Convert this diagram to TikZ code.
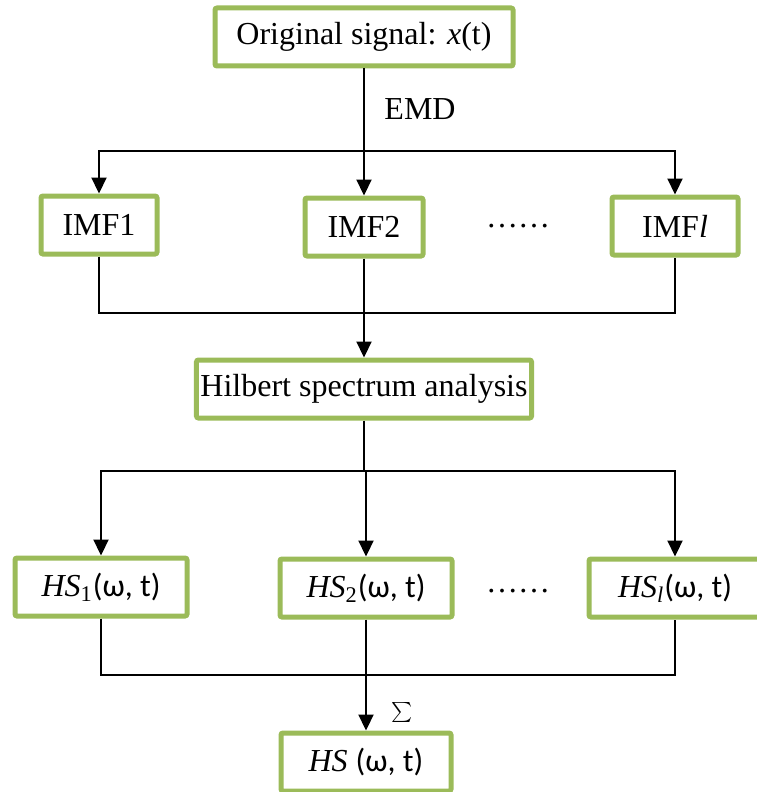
\documentclass[tikz,border=0pt]{standalone}
\usepackage{fontspec}
\setmainfont{Liberation Serif}
\newfontfamily\calfont{Carlito}
\usetikzlibrary{arrows.meta}
\definecolor{boxgreen}{RGB}{155,187,89}
\newcommand{\wt}{{\calfont(ω, t)}} % argument of the spectra
\tikzset{
>={Triangle[width=7.5pt,length=8pt]}, % filled heads on all arrows
box/.style={draw=boxgreen, line width=2.5pt, rounded corners=1pt, fill=white,
  minimum height=29pt, inner sep=2pt, font=\fontsize{16}{19}\selectfont}, % green frames
plain/.style={font=\fontsize{16}{19}\selectfont},
link/.style={line width=1.1pt}, % black connectors
}

\begin{document}
\begin{tikzpicture}[x=0.5pt, y=-0.5pt]
      \useasboundingbox (0,0) rectangle (756,792);

      \node[box, minimum width=149pt] (orig) at (364,37) {Original signal: \textit{x}(t)};

      \node[box, minimum width=58pt] (imf1) at (99,225) {IMF1};
      \node[box, minimum width=59pt] (imf2) at (364,227) {IMF2};
      \node[box, minimum width=63pt] (imfl) at (675,226) {IMF\textit{l}};
      \node[plain] (dots1) at (518,226) {……};

      \node[box, minimum width=131pt] (hilbert) at (364,389) {Hilbert spectrum analysis};

      \node[box, minimum width=86pt] (hs1) at (101,587) {\textit{HS}\textsubscript{1}\wt};
      \node[box, minimum width=86pt] (hs2) at (366,588) {\textit{HS}\textsubscript{2}\wt};
      \node[box, minimum width=86pt] (hsl) at (675,588) {\textit{HS}\textsubscript{\textit{l}}\wt};
      \node[plain] (dots2) at (518,591) {……};

      \node[box, minimum width=85pt] (hs) at (366,762) {\textit{HS} \wt};

      % branch and merge points
      \coordinate (split1) at (364,151);
      \coordinate (join1) at (364,313);
      \coordinate (split2) at (364,471);
      \coordinate (join2) at (366,675);

      \node[plain] (emd) at (420,109) {EMD};
      \node[font=\fontsize{9}{10}\selectfont] (sigma) at (402,712) {$\sum$};

      % EMD into the IMFs
      \draw[link] (orig.south) -- (split1);
      \draw[link,->] (split1) -| (imf1.north);
      \draw[link,->] (split1) -- (imf2.north);
      \draw[link,->] (split1) -| (imfl.north);

      \draw[link] (imf1.south) |- (join1) -| (imfl.south);
      \draw[link] (imf2.south) -- (join1);
      \draw[link,->] (join1) -- (hilbert.north);

      % spectra of every IMF
      \draw[link] (hilbert.south) -- (split2);
      \draw[link,->] (split2) -| (hs1.north);
      \draw[link,->] (split2) -| (hs2.north);
      \draw[link,->] (split2) -| (hsl.north);

      \draw[link] (hs1.south) |- (join2) -| (hsl.south);
      \draw[link] (hs2.south) -- (join2);
      \draw[link,->] (join2) -- (hs.north);
\end{tikzpicture}
\end{document}
